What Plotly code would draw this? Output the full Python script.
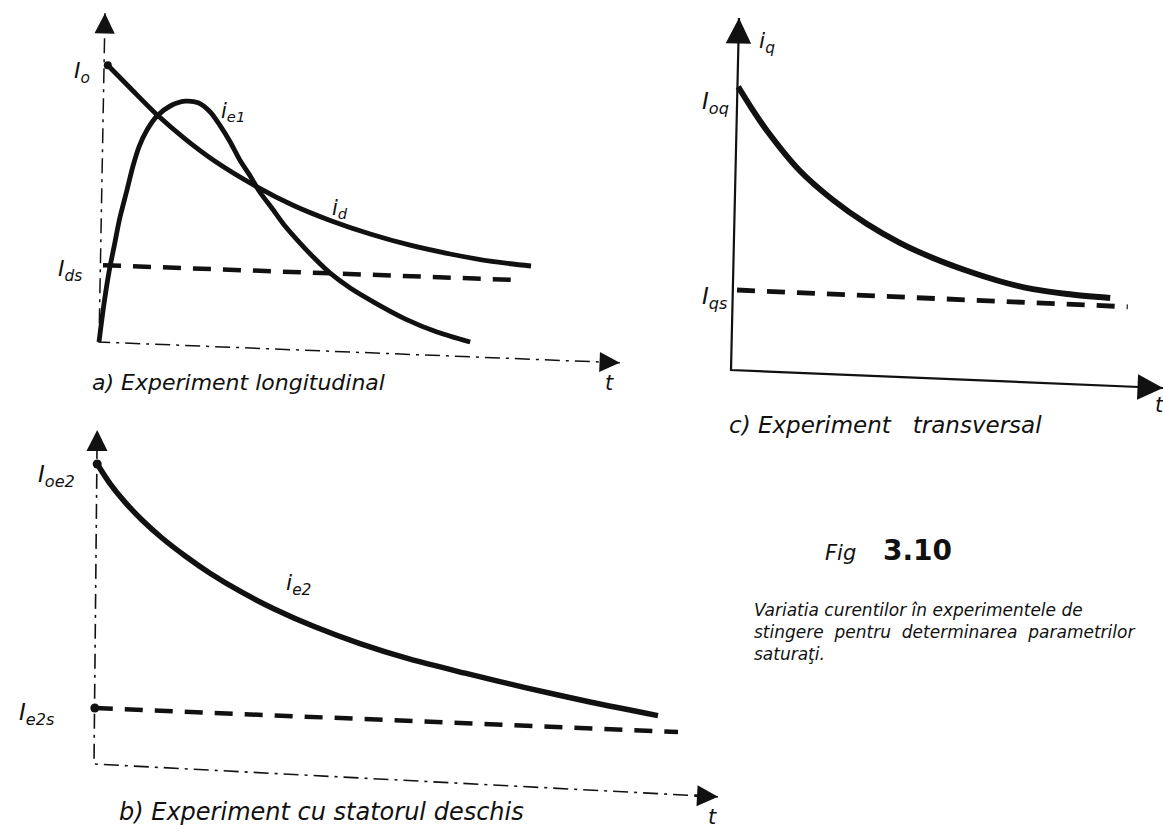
import plotly.graph_objects as go

W, H = 1163, 834
UNIT = 40  # pixels per data unit, same on every panel and both directions
INK = "#111111"
FONT = "DejaVu Sans"

# ---------------- a) longitudinal experiment ----------------
a_t_d = [0.22, 0.78, 1.45, 2.15, 2.90, 3.95, 4.85, 5.78, 6.78, 7.78, 8.78, 9.78, 10.80]
a_i_d = [6.92, 6.35, 5.68, 5.08, 4.52, 3.88, 3.42, 3.04, 2.70, 2.42, 2.20, 2.02, 1.90]
a_t_e1 = [0.0, 0.12, 0.25, 0.38, 0.52, 0.70, 0.85, 1.00, 1.20, 1.45, 1.78, 2.15, 2.48,
          2.78, 3.02, 3.28, 3.52, 3.78, 4.02, 4.32, 4.65, 5.02, 5.40, 5.78, 6.28,
          6.90, 7.65, 8.45, 9.28]
a_i_e1 = [0.0, 0.92, 1.75, 2.40, 3.10, 3.80, 4.40, 4.88, 5.30, 5.65, 5.90, 6.02, 5.98,
          5.75, 5.42, 5.00, 4.55, 4.15, 3.75, 3.35, 2.90, 2.48, 2.08, 1.72, 1.35,
          0.98, 0.58, 0.25, 0.0]
a_t_ds = [0.10, 10.45]
a_i_ds = [1.92, 1.55]
a_axis_t = [13.02, 0.0, 0.15]   # t-axis tip, origin, i-axis tip
a_axis_i = [-0.52, 0.0, 8.22]

# ---------------- b) open stator experiment ----------------
b_t_e2 = [0.08, 0.40, 0.78, 1.20, 1.70, 2.28, 2.90, 3.65, 4.52, 5.52, 6.65, 7.90, 9.28, 10.78, 12.40, 14.10]
b_i_e2 = [7.50, 7.01, 6.54, 6.10, 5.65, 5.20, 4.77, 4.32, 3.87, 3.43, 3.01, 2.62, 2.27, 1.91, 1.55, 1.21]
b_t_e2s = [0.02, 14.60]
b_i_e2s = [1.40, 0.80]
b_axis_t = [15.60, 0.0, 0.08]
b_axis_i = [-0.82, 0.0, 8.35]

# ---------------- c) transverse experiment ----------------
c_t_q = [0.18, 0.48, 0.90, 1.72, 2.55, 3.40, 4.22, 5.05, 5.90, 6.72, 7.55, 8.40, 9.48]
c_i_q = [7.08, 6.60, 5.98, 4.98, 4.25, 3.65, 3.18, 2.80, 2.48, 2.22, 2.02, 1.90, 1.80]
c_t_qs = [0.15, 9.92]
c_i_qs = [2.00, 1.58]
c_axis_t = [10.80, 0.0, 0.20]
c_axis_i = [-0.45, 0.0, 8.80]

# figure caption text
caption_lines = [
    "Variatia curentilor în experimentele de",
    "stingere  pentru  determinarea  parametrilor",
    "saturaţi.",
]

# panel frames: pixel box (left, top, right, bottom) and pixel origin of (t=0, i=0)
panels = {
    "a": dict(box=(20, 0, 660, 420), origin=(99, 342)),
    "b": dict(box=(0, 420, 740, 834), origin=(94, 764)),
    "c": dict(box=(680, 0, 1163, 440), origin=(731, 370)),
}
axis_ids = {"a": ("x", "y"), "b": ("x2", "y2"), "c": ("x3", "y3")}

fig = go.Figure()
layout_axes = {}
for key, p in panels.items():
    x0, y0, x1, y1 = p["box"]
    ox, oy = p["origin"]
    xa, ya = axis_ids[key]
    xname = "xaxis" + xa[1:]
    yname = "yaxis" + ya[1:]
    layout_axes[xname] = dict(domain=[x0 / W, x1 / W], range=[(x0 - ox) / UNIT, (x1 - ox) / UNIT],
                              visible=False, fixedrange=True, anchor=ya)
    layout_axes[yname] = dict(domain=[1 - y1 / H, 1 - y0 / H], range=[(oy - y1) / UNIT, (oy - y0) / UNIT],
                              visible=False, fixedrange=True, anchor=xa)


def line(key, t, i, width, dash="solid", shape="spline", color=INK):
    xa, ya = axis_ids[key]
    fig.add_trace(go.Scatter(x=t, y=i, mode="lines", xaxis=xa, yaxis=ya, hoverinfo="skip",
                             line=dict(color=color, width=width, dash=dash, shape=shape, smoothing=0.8),
                             showlegend=False))


def dot(key, t, i, size=8):
    xa, ya = axis_ids[key]
    fig.add_trace(go.Scatter(x=[t], y=[i], mode="markers", xaxis=xa, yaxis=ya, hoverinfo="skip",
                             marker=dict(color=INK, size=size), showlegend=False))


annotations = []


def label(key, t, i, text, size=20, xanchor="center"):
    xa, ya = axis_ids[key]
    annotations.append(dict(x=t, y=i, xref=xa, yref=ya, text=text, showarrow=False,
                            xanchor=xanchor, yanchor="middle",
                            font=dict(family=FONT, size=size, color=INK)))


def arrow_heads(key, at, ai, width):
    xa, ya = axis_ids[key]
    # heads on the t-axis (index 0) and the i-axis (index 2), pointing away from the origin
    for k in (0, 2):
        annotations.append(dict(x=at[k], y=ai[k], xref=xa, yref=ya,
                                ax=at[1] + (at[k] - at[1]) * 0.96, ay=ai[1] + (ai[k] - ai[1]) * 0.96,
                                axref=xa, ayref=ya, text="", showarrow=True,
                                arrowhead=2, arrowsize=1.5, arrowwidth=width + 1.2,
                                arrowcolor=INK, standoff=0))


DASH = "18px,12px"

# a)
line("a", a_axis_t, a_axis_i, 1.5, dash="longdashdot", shape="linear")
arrow_heads("a", a_axis_t, a_axis_i, 1.5)
line("a", a_t_ds, a_i_ds, 4.5, dash=DASH, shape="linear")
line("a", a_t_d, a_i_d, 4.8)
line("a", a_t_e1, a_i_e1, 4.8)
dot("a", a_t_d[0], a_i_d[0], 8)
label("a", -0.42, 6.75, "<i>I<sub>o</sub></i>", 22)
label("a", -0.72, 1.80, "<i>I<sub>ds</sub></i>", 22)
label("a", 3.35, 5.75, "<i>i<sub>e1</sub></i>", 21)
label("a", 6.02, 3.32, "<i>i<sub>d</sub></i>", 21)
label("a", 12.75, -1.02, "<i>t</i>", 21)
label("a", -0.22, -1.02, "<i>a) Experiment longitudinal</i>", 22, xanchor="left")

# b)
line("b", b_axis_t, b_axis_i, 1.6, dash="longdashdot", shape="linear")
arrow_heads("b", b_axis_t, b_axis_i, 1.6)
line("b", b_t_e2s, b_i_e2s, 4.5, dash=DASH, shape="linear")
line("b", b_t_e2, b_i_e2, 5.5)
dot("b", b_t_e2[0], b_i_e2[0], 9)
dot("b", b_t_e2s[0], b_i_e2s[0], 9)
label("b", -0.95, 7.20, "<i>I<sub>oe2</sub></i>", 23)
label("b", -1.42, 1.25, "<i>I<sub>e2s</sub></i>", 23)
label("b", 5.12, 4.48, "<i>i<sub>e2</sub></i>", 22)
label("b", 15.45, -1.32, "<i>t</i>", 21)
label("b", 0.58, -1.20, "<i>b) Experiment cu statorul deschis</i>", 24, xanchor="left")

# c)
line("c", c_axis_t, c_axis_i, 2.2, shape="linear")
arrow_heads("c", c_axis_t, c_axis_i, 2.2)
line("c", c_t_qs, c_i_qs, 4.8, dash=DASH, shape="linear")
line("c", c_t_q, c_i_q, 5.8)
label("c", 0.90, 8.18, "<i>i<sub>q</sub></i>", 22)
label("c", -0.38, 6.68, "<i>I<sub>oq</sub></i>", 23)
label("c", -0.40, 1.80, "<i>I<sub>qs</sub></i>", 23)
label("c", 10.72, -0.88, "<i>t</i>", 21)
label("c", -0.10, -1.38, "<i>c) Experiment   transversal</i>", 23, xanchor="left")

# figure title and caption (page coordinates)
annotations.append(dict(x=823 / W, y=1 - 553 / H, xref="paper", yref="paper", showarrow=False,
                        xanchor="left", yanchor="middle", text="<i>Fig</i>",
                        font=dict(family=FONT, size=21, color=INK)))
annotations.append(dict(x=881 / W, y=1 - 550 / H, xref="paper", yref="paper", showarrow=False,
                        xanchor="left", yanchor="middle", text="<b>3.10</b>",
                        font=dict(family=FONT, size=28, color=INK)))
annotations.append(dict(x=752 / W, y=1 - 598 / H, xref="paper", yref="paper", showarrow=False,
                        xanchor="left", yanchor="top", align="left",
                        text="<i>" + "<br>".join(caption_lines) + "</i>",
                        font=dict(family=FONT, size=17, color=INK)))

fig.update_layout(width=W, height=H, margin=dict(l=0, r=0, t=0, b=0),
                  paper_bgcolor="white", plot_bgcolor="rgba(0,0,0,0)",
                  showlegend=False, annotations=annotations, **layout_axes)

fig.write_html("out.html", config={"displayModeBar": False})
